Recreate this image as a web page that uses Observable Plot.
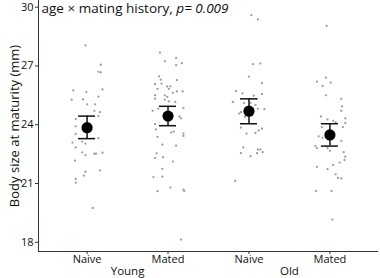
<!DOCTYPE html>
<html>
<head>
<meta charset="utf-8">
<script src="https://cdn.jsdelivr.net/npm/d3@7"></script>
<script src="https://cdn.jsdelivr.net/npm/@observablehq/plot@0.6"></script>
<style>
  html, body { margin: 0; padding: 0; background: #fff; }
  #chart { width: 380px; height: 278px; }
</style>
</head>
<body>
<div id="chart"></div>
<script>
// Category labels
const treatments = ["Naive", "Mated", "Naive", "Mated"];
const ages = ["Young", "Old"];
const annotation = "age × mating history, ";
const annotationP = "p= 0.009";
const yTicks = [18, 21, 24, 27, 30];

// Raw observations (body size, mm) and horizontal jitter (fraction of category step)
const youngNaive = [28.05, 27.06, 26.70, 26.67, 25.75, 25.66, 25.80, 25.28, 25.29, 25.43, 25.04, 25.04, 24.71, 24.64, 24.44, 24.29, 23.92, 23.53, 23.31, 23.09, 23.14, 23.04, 22.84, 22.59, 22.45, 22.52, 22.52, 22.57, 22.17, 21.60, 21.67, 21.40, 21.23, 21.04, 19.75];
const youngNaiveJitter = [-0.02, 0.17, 0.14, 0.17, -0.17, -0.01, 0.19, -0.19, -0.05, 0.14, 0, 0.10, 0.09, 0.16, 0.14, -0.14, -0.14, -0.14, 0.14, -0.18, -0.06, -0.02, -0.14, -0.06, -0.02, 0.09, 0.11, 0.19, -0.15, -0.02, 0.16, -0.04, -0.14, -0.14, 0.07];

const youngMated = [27.68, 27.41, 27.24, 27.14, 27.04, 26.47, 26.30, 26.28, 26.07, 26.10, 25.95, 25.96, 25.83, 25.83, 25.70, 25.70, 25.63, 25.51, 25.50, 25.33, 25.42, 25.28, 25.19, 25.16, 24.82, 24.71, 24.86, 24.42, 24.32, 24.03, 23.60, 23.65, 23.76, 23.55, 23.43, 23.38, 22.98, 22.93, 22.54, 22.34, 22.30, 22.12, 21.75, 21.33, 21.35, 20.61, 20.79, 20.69, 20.62, 18.14];
const youngMatedJitter = [-0.10, 0.10, -0.04, 0.17, 0.10, -0.11, -0.09, 0.11, -0.16, -0.08, -0.01, 0.03, -0.13, 0.01, 0.11, 0.18, 0.06, -0.16, -0.04, -0.16, -0.01, -0.04, 0.01, 0.09, -0.12, -0.19, 0.19, 0.14, 0.16, -0.16, 0.04, 0.07, -0.15, 0.19, 0.19, -0.13, -0.07, 0.10, -0.14, -0.06, -0.16, 0.06, -0.07, -0.18, -0.07, -0.13, 0.03, 0.19, 0.20, 0.16];

const oldNaive = [29.59, 29.37, 27.09, 27.12, 26.45, 26.12, 25.71, 25.60, 25.56, 25.48, 25.32, 25.16, 25.12, 25.12, 25.01, 24.81, 24.79, 24.57, 24.64, 24.40, 23.85, 23.80, 23.71, 23.58, 23.55, 22.84, 22.73, 22.74, 22.60, 22.55, 22.55, 22.39, 21.13];
const oldNaiveJitter = [0.03, 0.11, 0.05, 0.14, 0, 0.16, -0.16, -0.08, 0.16, 0.06, 0.10, -0.20, -0.06, 0.02, 0.08, 0.11, 0.19, -0.12, -0.10, -0.05, -0.10, 0.16, 0.12, 0.08, -0.03, -0.07, 0.11, 0.14, 0.17, 0.10, -0.10, 0.02, -0.17];

const oldMated = [29.05, 26.40, 26.20, 26.15, 25.98, 25.50, 25.32, 24.94, 24.71, 24.42, 24.32, 24.27, 24.20, 24.12, 24.09, 23.88, 23.88, 23.41, 23.33, 23.18, 22.91, 22.81, 22.81, 22.67, 22.60, 22.37, 22.20, 22.07, 21.95, 21.85, 21.73, 21.47, 21.28, 21.26, 20.62, 20.62, 19.16];
const oldMatedJitter = [-0.04, -0.05, -0.16, 0.01, -0.09, -0.05, 0.14, 0.15, 0.14, -0.11, 0.19, -0.03, 0.04, 0.07, 0.19, -0.10, 0.16, -0.14, -0.09, 0.14, -0.18, -0.16, -0.03, 0, 0.17, 0.19, 0.18, 0.12, 0.04, -0.16, -0.03, 0.07, 0.10, 0.14, -0.17, 0.02, 0.03];

// Group estimates (mean and interval)
const means = [23.85, 24.44, 24.69, 23.48];
const lower = [23.29, 23.95, 24.05, 22.91];
const upper = [24.44, 24.94, 25.32, 24.05];

// Build tables
const series = [youngNaive, youngMated, oldNaive, oldMated];
const jitters = [youngNaiveJitter, youngMatedJitter, oldNaiveJitter, oldMatedJitter];
const points = series.flatMap((vals, g) => vals.map((v, k) => ({x: g + 1 + jitters[g][k], y: v})));
const stats = means.map((m, g) => ({x: g + 1, mean: m, lo: lower[g], hi: upper[g]}));
const ageLabels = ages.map((a, i) => ({x: 1.5 + 2 * i, label: a}));

const xDomain = [0.4, 4.6];
const yDomain = [17.53, 30.34];
const capHalf = 0.105;
const axisColor = "#333";
const font = "'Open Sans', Lato, sans-serif";

const chart = Plot.plot({
  width: 380,
  height: 278,
  marginLeft: 38,
  marginRight: 2,
  marginTop: 0,
  marginBottom: 27,
  style: {fontFamily: font, fontSize: "11px", background: "#fff", color: "#111", overflow: "visible"},
  x: {domain: xDomain},
  y: {domain: yDomain},
  marks: [
    Plot.axisX({ticks: [1, 2, 3, 4], tickFormat: i => treatments[i - 1], tickSize: 3, tickPadding: 1, label: null, stroke: axisColor, fontSize: 11}),
    Plot.axisY({ticks: yTicks, tickSize: 3, tickPadding: 2, label: "Body size at maturity (mm)", labelAnchor: "center", labelArrow: "none", labelOffset: 29, stroke: axisColor, fontSize: 11}),
    Plot.ruleX([xDomain[0]], {stroke: axisColor, strokeWidth: 1}),
    Plot.ruleY([yDomain[0]], {stroke: axisColor, strokeWidth: 1}),
    Plot.dot(points, {x: "x", y: "y", r: 1.15, fill: "#9d9d9d", stroke: null}),
    Plot.ruleX(stats, {x: "x", y1: "lo", y2: "hi", stroke: "#111", strokeWidth: 1.5}),
    Plot.ruleY(stats, {y: "lo", x1: d => d.x - capHalf, x2: d => d.x + capHalf, stroke: "#111", strokeWidth: 1.5}),
    Plot.ruleY(stats, {y: "hi", x1: d => d.x - capHalf, x2: d => d.x + capHalf, stroke: "#111", strokeWidth: 1.5}),
    Plot.dot(stats, {x: "x", y: "mean", r: 5.6, fill: "#000", stroke: null}),
    Plot.text(ageLabels, {x: "x", y: () => yDomain[0], text: "label", dy: 20, lineAnchor: "middle", fontSize: 11.5, fill: "#111", clip: false}),
    Plot.text([annotation + annotationP], {frameAnchor: "top-left", dx: 3, dy: 8, lineAnchor: "middle", textAnchor: "start", fontSize: 13.5, fill: "#111", className: "anno"})
  ]
});

// Split annotation into normal + italic parts (keeps real text)
d3.select(chart).selectAll("g.anno text").each(function() {
  const t = d3.select(this);
  t.text(null);
  t.append("tspan").text(annotation);
  t.append("tspan").attr("font-style", "italic").text(annotationP);
});
// y axis title size
d3.select(chart).selectAll("g[aria-label='y-axis label'] text").attr("font-size", 13);

document.getElementById("chart").appendChild(chart);
</script>
</body>
</html>
